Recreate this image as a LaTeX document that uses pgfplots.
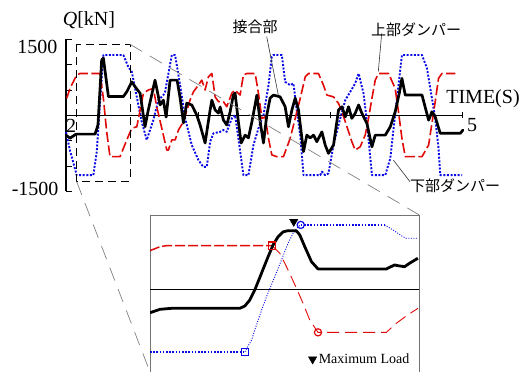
\documentclass[border=0pt]{standalone}
\usepackage{pgfplots}
\pgfplotsset{compat=1.18}
\usepackage{pgfplotstable}
\usepackage{fontspec}
\setmainfont{Liberation Serif}
\newfontfamily\jp{Noto Sans CJK JP}
\definecolor{dred}{RGB}{225,8,8}
\definecolor{dblue}{RGB}{10,10,230}
\newcommand\biglab{\fontsize{20}{24}\selectfont}
\newcommand\jlab{\jp\fontsize{15}{18}\selectfont}

% joint force, 2-5 s  (time [s], Q [kN])
\pgfplotstableread{
t Q
2.000 -390
2.030 -450
2.076 -370
2.220 -370
2.242 -190
2.270 1090
2.283 1130
2.321 370
2.434 370
2.460 465
2.498 660
2.523 565
2.561 435
2.598 -225
2.623 105
2.674 695
2.712 205
2.737 300
2.758 -35
2.788 695
2.841 695
2.864 340
2.889 -150
2.914 240
2.952 205
2.990 5
3.015 -190
3.053 -545
3.091 105
3.104 300
3.129 105
3.154 45
3.167 165
3.192 -95
3.217 -190
3.242 65
3.267 400
3.280 440
3.305 -130
3.326 -545
3.356 -390
3.381 -445
3.407 -130
3.445 400
3.470 -130
3.495 -545
3.520 5
3.545 340
3.570 400
3.621 365
3.659 170
3.684 -225
3.710 105
3.735 340
3.760 105
3.798 -715
3.823 -390
3.848 -445
3.874 -390
3.899 -520
3.937 -325
3.962 -585
3.987 -750
4.025 -585
4.063 105
4.089 170
4.114 -30
4.139 170
4.164 -60
4.189 40
4.215 205
4.240 40
4.278 -160
4.316 -620
4.341 -390
4.417 -390
4.455 -225
4.492 70
4.523 435
4.543 730
4.568 400
4.695 400
4.745 -95
4.770 70
4.795 -30
4.833 -355
4.985 -355
5.005 -290
}\jointT

% lower damper
\pgfplotstableread{
t Q
2.000 -330
2.030 -690
2.081 -1180
2.207 -1180
2.233 -715
2.258 270
2.283 1190
2.434 1190
2.472 955
2.498 860
2.523 530
2.573 -125
2.611 -485
2.661 -95
2.699 300
2.737 400
2.750 465
2.801 1190
2.826 1190
2.864 595
2.902 -60
2.952 -585
3.002 -880
3.038 -1015
3.066 -1015
3.091 -520
3.116 -355
3.167 -325
3.192 -290
3.217 -325
3.255 -60
3.280 5
3.305 -455
3.343 -1180
3.381 -1180
3.419 -585
3.457 -255
3.495 5
3.533 595
3.558 1155
3.570 1190
3.634 1190
3.659 660
3.697 595
3.722 630
3.748 70
3.773 -390
3.798 -1180
3.924 -1180
3.937 -1110
3.962 -1180
3.987 -1145
4.025 -585
4.076 -60
4.114 300
4.152 465
4.189 630
4.215 825
4.252 435
4.278 -125
4.316 -1180
4.417 -1180
4.455 -845
4.480 -255
4.517 595
4.543 1190
4.695 1190
4.733 925
4.758 530
4.795 -60
4.820 -650
4.833 -1180
4.998 -1180
}\lowerT

% upper damper
\pgfplotstableread{
t Q
2.005 335
2.030 530
2.081 795
2.106 825
2.258 825
2.283 335
2.308 -325
2.333 -815
2.409 -815
2.460 -485
2.498 -255
2.536 -225
2.561 105
2.586 435
2.623 500
2.661 530
2.687 170
2.725 -255
2.763 -685
2.775 -685
2.801 -485
2.826 -485
2.851 -290
2.889 -125
2.939 300
2.965 465
3.002 595
3.028 695
3.053 500
3.078 760
3.104 825
3.129 365
3.154 270
3.192 270
3.217 170
3.255 435
3.280 500
3.318 400
3.343 795
3.369 825
3.432 825
3.457 435
3.483 -60
3.508 -30
3.533 -455
3.558 -780
3.596 -815
3.646 -815
3.697 -455
3.735 -60
3.773 335
3.811 760
3.836 825
3.911 825
3.949 595
3.975 400
4.025 365
4.063 235
4.089 70
4.127 -225
4.164 -520
4.189 -685
4.227 -620
4.265 -390
4.290 -60
4.316 335
4.341 695
4.366 825
4.442 825
4.492 530
4.517 70
4.543 -455
4.568 -815
4.695 -815
4.745 -585
4.770 -160
4.795 270
4.820 730
4.846 825
4.947 825
}\upperT

% close-up around the maximum load
\pgfplotstableread{
t Q
2.0600 -445
2.0754 -380
2.0934 -361
2.1985 -361
2.2062 -317
2.2138 -203
2.2215 -13
2.2318 304
2.2420 619
2.2497 842
2.2574 999
2.2651 1089
2.2728 1113
2.2857 1108
2.2908 1032
2.2985 809
2.3088 524
2.3189 386
2.4242 386
2.4369 462
2.4420 448
2.4523 429
2.4600 494
2.4728 589
}\jointZ

\pgfplotstableread{
t Q
2.0600 -1186
2.2062 -1186
}\lowerZa
\pgfplotstableread{
t Q
2.2062 -1186
2.2165 -963
2.2266 -583
2.2395 -141
2.2523 239
2.2626 557
2.2728 874
2.2805 1064
2.2882 1189
2.2923 1222
}\lowerZb
\pgfplotstableread{
t Q
2.2923 1222
2.4215 1222
}\lowerZc
\pgfplotstableread{
t Q
2.4215 1222
2.4343 1127
2.4497 999
2.4549 969
2.4728 969
}\lowerZd

\pgfplotstableread{
t Q
2.0600 733
2.0754 809
2.0857 828
2.2482 828
}\upperZa
\pgfplotstableread{
t Q
2.2482 828
2.2600 684
2.2728 367
2.2857 19
2.2958 -266
2.3062 -583
2.3189 -817
2.4242 -817
2.4395 -646
2.4549 -507
2.4728 -361
}\upperZb

\begin{document}
\begin{tikzpicture}[x=1pt,y=1pt]
\useasboundingbox (0,0) rectangle (522,372);

% ---------- time history ----------
\begin{axis}[
  at={(66pt,180.6pt)}, anchor=south west, scale only axis,
  width=396.3pt, height=152.1pt,
  xmin=2, xmax=5, ymin=-1500, ymax=1500,
  axis x line*=middle, axis y line*=left,
  x axis line style={line width=0.8pt},
  y axis line style={line width=1.8pt},
  xtick={3,4,5}, xticklabel={\relax},
  ytick={-1500,-1000,...,1500}, yticklabel={\relax},
  tick align=inside, major tick length=6pt,
  tick style={black, line width=0.8pt},
  xtick style={yshift=-3pt},
  clip=false,
]
\addplot[dblue, line width=1.9pt, dash pattern=on 2pt off 1.6pt, line join=round] table {\lowerT};
\addplot[dred, line width=1.6pt, dash pattern=on 10pt off 3.5pt, line join=round] table {\upperT};
\addplot[black, line width=2.7pt, line join=round, line cap=round] table {\jointT};
\draw[black, line width=0.9pt, dash pattern=on 8pt off 5pt]
  (axis cs:2.081,1399) rectangle (axis cs:2.485,-1308);
\end{axis}

\node[anchor=east, font=\biglab] at (61,325.5) {1500};
\node[anchor=east, font=\biglab] at (62,183.5) {-1500};
\node[font=\biglab] at (71,246.5) {2};
\node[font=\biglab] at (472,247) {5};
\node[font=\biglab] at (483,273) {TIME(S)};
\node[font=\biglab] at (89,351.5) {\textit{Q}[kN]};

% callouts
\draw[black!80, line width=0.6pt] (266.7,335.3) -- (278.3,277);
\draw[black!80, line width=0.6pt] (381.7,338.7) -- (378.3,300.3);
\draw[black!80, line width=0.6pt] (393.3,212) -- (410,190.3);
\node[font=\jlab] at (255,345.5) {接合部};
\node[font=\jlab] at (416,342) {上部ダンパー};
\node[font=\jlab] at (455,186) {下部ダンパー};

% zoom guides
\draw[gray, line width=0.7pt, dash pattern=on 14pt off 9pt] (130,327.7) -- (419.3,157);
\draw[gray, line width=0.7pt, dash pattern=on 14pt off 9pt] (76.7,190.3) -- (150,0);

% ---------- close-up ----------
\begin{axis}[
  at={(150pt,0pt)}, anchor=south west, scale only axis,
  width=269.3pt, height=157pt,
  xmin=2.06, xmax=2.475, ymin=-1570, ymax=1410,
  xtick=\empty, ytick=\empty,
  axis line style={draw=black!55, line width=0.8pt},
  legend style={at={(0.975,0.025)}, anchor=south east, draw=none, fill=none,
    font=\fontsize{14}{16}\selectfont, inner sep=1pt},
  legend cell align=left,
]
\addlegendimage{only marks, mark=triangle*, mark options={rotate=180, fill=black}, mark size=4.8pt}
\addlegendentry{Maximum Load}
\draw[black, line width=0.8pt] (axis cs:2.06,0) -- (axis cs:2.475,0);
\addplot[forget plot, dblue, line width=1.5pt, dash pattern=on 1.6pt off 1.6pt] table {\lowerZa};
\addplot[forget plot, dblue, line width=0.9pt, dash pattern=on 1pt off 1.5pt] table {\lowerZb};
\addplot[forget plot, dblue, line width=1.5pt, dash pattern=on 1.6pt off 1.6pt] table {\lowerZc};
\addplot[forget plot, dblue, line width=0.9pt, dash pattern=on 1pt off 1.5pt] table {\lowerZd};
\addplot[forget plot, dred, line width=1.5pt, dash pattern=on 10pt off 3pt] table {\upperZa};
\addplot[forget plot, dred, line width=0.9pt, dash pattern=on 12pt off 6pt] table {\upperZb};
\addplot[forget plot, black, line width=2.8pt, line join=round] table {\jointZ};
\addplot[forget plot, only marks, mark=square, mark size=3.6pt, dblue, line width=1.2pt, mark options={fill=white}] coordinates {(2.2062,-1186)};
\addplot[forget plot, only marks, mark=o, mark size=3.6pt, dblue, line width=1.2pt, mark options={fill=white}] coordinates {(2.2923,1222)};
\addplot[forget plot, only marks, mark=square, mark size=3.6pt, dred, line width=1.2pt, mark options={fill=white}] coordinates {(2.2482,828)};
\addplot[forget plot, only marks, mark=o, mark size=3.6pt, dred, line width=1.2pt, mark options={fill=white}] coordinates {(2.3189,-817)};
\addplot[forget plot, only marks, mark=triangle*, mark size=4.8pt, black, mark options={rotate=180}] coordinates {(2.2815,1284)};
\end{axis}
\end{tikzpicture}
\end{document}
